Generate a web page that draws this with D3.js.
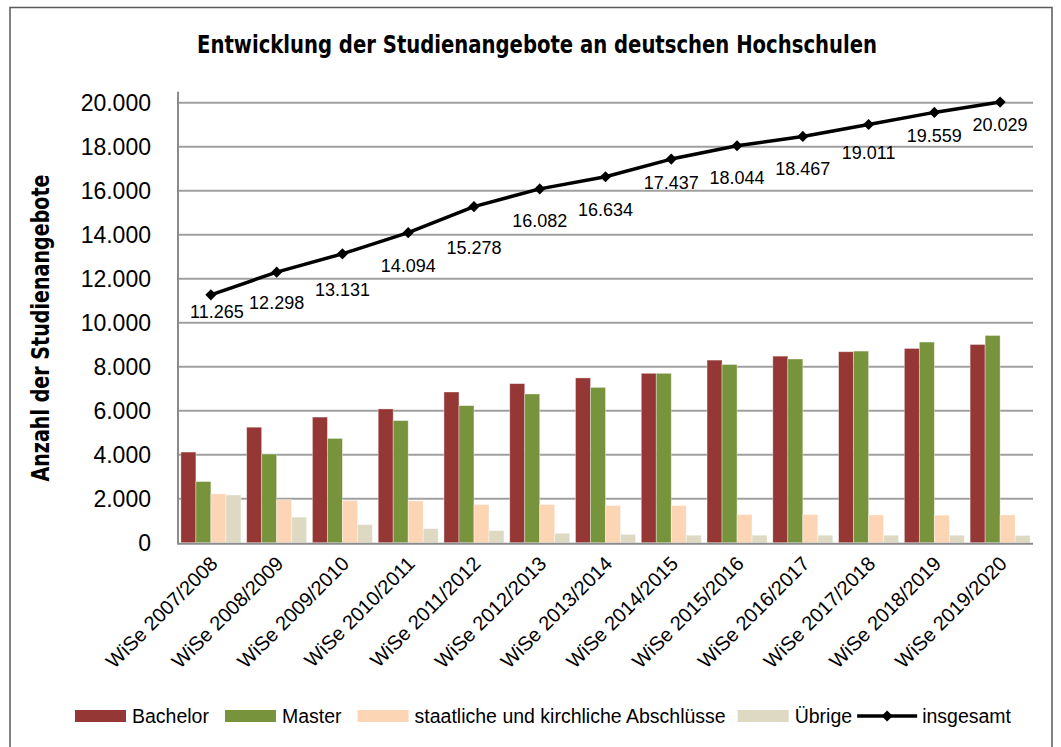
<!DOCTYPE html>
<html>
<head>
<meta charset="utf-8">
<script src="https://cdn.jsdelivr.net/npm/d3@7"></script>
<style>
  body { margin: 0; background: #fff; }
  svg { display: block; font-family: "Liberation Sans", Arial, sans-serif; }
  .cond { font-family: "DejaVu Sans Condensed", "Liberation Sans", sans-serif; }
</style>
</head>
<body>
<div id="chart-container"></div>
<script>
// data
const categories = ["WiSe 2007/2008", "WiSe 2008/2009", "WiSe 2009/2010", "WiSe 2010/2011", "WiSe 2011/2012",
  "WiSe 2012/2013", "WiSe 2013/2014", "WiSe 2014/2015", "WiSe 2015/2016", "WiSe 2016/2017",
  "WiSe 2017/2018", "WiSe 2018/2019", "WiSe 2019/2020"];
const bachelor = [4120, 5250, 5710, 6080, 6850, 7230, 7490, 7700, 8300, 8480, 8680, 8830, 9010];
const master = [2780, 4030, 4740, 5550, 6230, 6760, 7060, 7700, 8100, 8350, 8710, 9120, 9420];
const staatlich = [2220, 1950, 1920, 1900, 1740, 1740, 1690, 1690, 1280, 1280, 1260, 1250, 1260];
const uebrige = [2170, 1160, 820, 640, 550, 430, 380, 340, 340, 340, 340, 340, 330];
const insgesamt = [11265, 12298, 13131, 14094, 15278, 16082, 16634, 17437, 18044, 18467, 19011, 19559, 20029];
const yTicks = [0, 2000, 4000, 6000, 8000, 10000, 12000, 14000, 16000, 18000, 20000];

const seriesNames = ["Bachelor", "Master", "staatliche und kirchliche Abschlüsse", "Übrige"];
const seriesValues = [bachelor, master, staatlich, uebrige];
const seriesColors = ["#953735", "#77933c", "#fcd5b5", "#ddd9c3"];

// label placement below the line points (as in the original)
const labelDy = [23, 37, 42, 39, 47, 38, 39, 30, 38, 39, 35, 30, 29];
const labelDx = [6, 0, 0, 0, 0, 0, 0, 0, 0, 0, 0, 0, 0];

const svgWidth = 1061, svgHeight = 747;
const plotLeft = 178, plotRight = 1033, plotTop = 102.7, plotBottom = 542.7;

const de = d3.formatLocale({decimal: ",", thousands: ".", grouping: [3], currency: ["", " €"]});
const fmt = de.format(",d");

const svg = d3.select("#chart-container").append("svg")
  .attr("width", svgWidth)
  .attr("height", svgHeight);

// outer frame
svg.append("rect")
  .attr("x", 10).attr("y", 7.5)
  .attr("width", 1042).attr("height", 760)
  .attr("fill", "none")
  .attr("stroke", "#5a5a5a")
  .attr("stroke-width", 1.5);

// title
svg.append("text")
  .attr("class", "cond")
  .attr("x", 537).attr("y", 53)
  .attr("text-anchor", "middle")
  .style("font-size", "25px")
  .style("font-weight", "bold")
  .attr("textLength", 680)
  .attr("lengthAdjust", "spacingAndGlyphs")
  .text("Entwicklung der Studienangebote an deutschen Hochschulen");

// scales
const xScale = d3.scaleBand().domain(categories).range([plotLeft, plotRight]).padding(0);
const groupW = xScale.bandwidth() * 0.912;
const xInner = d3.scaleBand().domain(d3.range(seriesNames.length)).range([0, groupW]);
const yScale = d3.scaleLinear().domain([0, 20000]).range([plotBottom, plotTop]);

// gridlines
svg.append("g")
  .selectAll("line")
  .data(yTicks.filter(d => d > 0))
  .enter().append("line")
  .attr("x1", plotLeft).attr("x2", plotRight)
  .attr("y1", d => yScale(d)).attr("y2", d => yScale(d))
  .attr("stroke", "#a0a0a0")
  .attr("stroke-width", 2);

// y axis
const yAxis = d3.axisLeft(yScale).tickValues(yTicks).tickSize(0).tickPadding(27).tickFormat(fmt);
const yG = svg.append("g")
  .attr("transform", "translate(" + plotLeft + ",0)")
  .call(yAxis);
yG.select(".domain").remove();
yG.selectAll(".tick text")
  .style("font-size", "23px")
  .style("font-family", "'Liberation Sans', Arial, sans-serif")
  .attr("fill", "#000");

svg.append("line")
  .attr("x1", plotLeft).attr("x2", plotLeft)
  .attr("y1", plotTop - 11).attr("y2", plotBottom + 1)
  .attr("stroke", "#8c8c8c").attr("stroke-width", 2);

// y axis title
svg.append("text")
  .attr("class", "cond")
  .attr("transform", "translate(49," + 328 + ") rotate(-90)")
  .attr("text-anchor", "middle")
  .style("font-size", "24px")
  .style("font-weight", "bold")
  .attr("textLength", 307)
  .attr("lengthAdjust", "spacingAndGlyphs")
  .text("Anzahl der Studienangebote");

// bars
const groups = svg.append("g").selectAll("g")
  .data(categories)
  .enter().append("g")
  .attr("transform", d => "translate(" + (xScale(d) + (xScale.bandwidth() - groupW) / 2) + ",0)");

groups.selectAll("rect")
  .data((d, i) => seriesValues.map((vals, s) => ({s: s, v: vals[i]})))
  .enter().append("rect")
  .attr("x", d => xInner(d.s))
  .attr("y", d => yScale(d.v))
  .attr("width", xInner.bandwidth())
  .attr("height", d => yScale(0) - yScale(d.v))
  .attr("fill", d => seriesColors[d.s])
  .attr("stroke", "#fff")
  .attr("stroke-opacity", 0.45)
  .attr("stroke-width", 0.8);

// x axis line
svg.append("line")
  .attr("x1", plotLeft - 1).attr("x2", plotRight)
  .attr("y1", plotBottom + 1).attr("y2", plotBottom + 1)
  .attr("stroke", "#8c8c8c").attr("stroke-width", 2);

// x labels
svg.append("g").selectAll("text")
  .data(categories)
  .enter().append("text")
  .attr("transform", d => "translate(" + (xScale(d) + xScale.bandwidth() / 2 + 8) + "," + 565 + ") rotate(-45)")
  .attr("text-anchor", "end")
  .style("font-size", "20px")
  .text(d => d);

// total line
const line = d3.line()
  .x((d, i) => xScale(categories[i]) + xScale.bandwidth() / 2)
  .y(d => yScale(d));

svg.append("path")
  .datum(insgesamt)
  .attr("d", line)
  .attr("fill", "none")
  .attr("stroke", "#000")
  .attr("stroke-width", 3.5)
  .attr("stroke-linejoin", "round");

const marker = d3.symbol().type(d3.symbolSquare).size(62);

svg.append("g").selectAll("path")
  .data(insgesamt)
  .enter().append("path")
  .attr("d", marker)
  .attr("transform", (d, i) => "translate(" + (xScale(categories[i]) + xScale.bandwidth() / 2) + "," + yScale(d) + ") rotate(45)")
  .attr("fill", "#000");

// value labels
svg.append("g").selectAll("text")
  .data(insgesamt)
  .enter().append("text")
  .attr("x", (d, i) => xScale(categories[i]) + xScale.bandwidth() / 2 + labelDx[i])
  .attr("y", (d, i) => yScale(d) + labelDy[i])
  .attr("text-anchor", "middle")
  .style("font-size", "18px")
  .text(d => fmt(d));

// legend
const legend = svg.append("g").attr("transform", "translate(0,716)");
const legendGap = [16, 16, 12, 5];
let lx = 75;
seriesNames.forEach((name, s) => {
  legend.append("rect")
    .attr("x", lx).attr("y", -6)
    .attr("width", 51).attr("height", 12)
    .attr("fill", seriesColors[s]);
  const t = legend.append("text")
    .attr("x", lx + 57).attr("y", 7)
    .style("font-size", "19.5px")
    .text(name);
  lx += 57 + t.node().getComputedTextLength() + legendGap[s];
});
legend.append("line")
  .attr("x1", lx).attr("x2", lx + 60)
  .attr("y1", 0).attr("y2", 0)
  .attr("stroke", "#000").attr("stroke-width", 3.5);
legend.append("path")
  .attr("d", marker)
  .attr("transform", "translate(" + (lx + 30) + ",0) rotate(45)")
  .attr("fill", "#000");
legend.append("text")
  .attr("x", lx + 65).attr("y", 7)
  .style("font-size", "19.5px")
  .text("insgesamt");
</script>
</body>
</html>
